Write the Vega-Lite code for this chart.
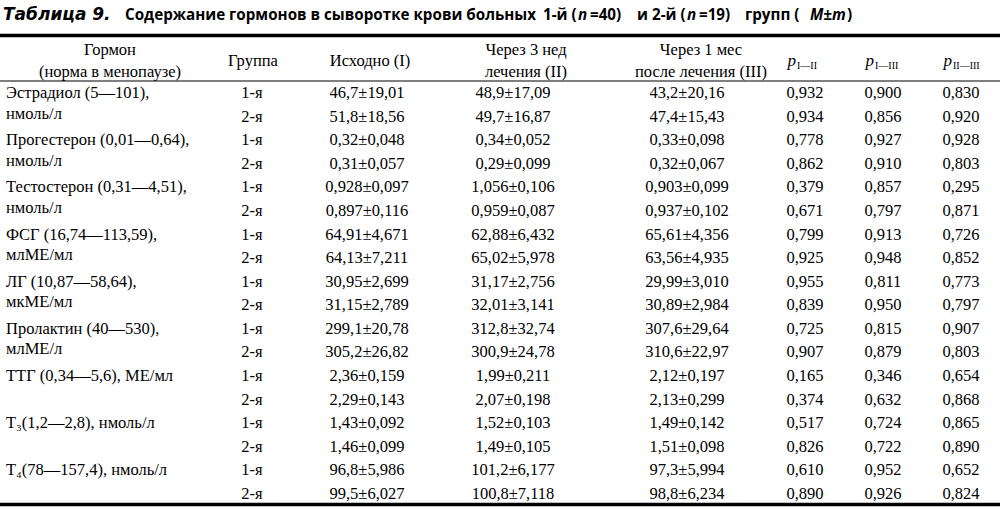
{
 "$schema": "https://vega.github.io/schema/vega-lite/v6.json",
 "width": 1000, "height": 515, "padding": 0, "autosize": "none",
 "background": "white",
 "config": {"view": {"stroke": null}, "text": {"font": "Liberation Serif", "fontSize": 16.5, "color": "#000"}},
 "datasets": {
  "body": [
   {"row": 6, "g": "1-я", "I": "46,7±19,01", "II": "48,9±17,09", "III": "43,2±20,16", "p1": "0,932", "p2": "0,900", "p3": "0,830"},
   {"row": 7, "g": "2-я", "I": "51,8±18,56", "II": "49,7±16,87", "III": "47,4±15,43", "p1": "0,934", "p2": "0,856", "p3": "0,920"},
   {"row": 8, "g": "1-я", "I": "0,32±0,048", "II": "0,34±0,052", "III": "0,33±0,098", "p1": "0,778", "p2": "0,927", "p3": "0,928"},
   {"row": 9, "g": "2-я", "I": "0,31±0,057", "II": "0,29±0,099", "III": "0,32±0,067", "p1": "0,862", "p2": "0,910", "p3": "0,803"},
   {"row": 10, "g": "1-я", "I": "0,928±0,097", "II": "1,056±0,106", "III": "0,903±0,099", "p1": "0,379", "p2": "0,857", "p3": "0,295"},
   {"row": 11, "g": "2-я", "I": "0,897±0,116", "II": "0,959±0,087", "III": "0,937±0,102", "p1": "0,671", "p2": "0,797", "p3": "0,871"},
   {"row": 12, "g": "1-я", "I": "64,91±4,671", "II": "62,88±6,432", "III": "65,61±4,356", "p1": "0,799", "p2": "0,913", "p3": "0,726"},
   {"row": 13, "g": "2-я", "I": "64,13±7,211", "II": "65,02±5,978", "III": "63,56±4,935", "p1": "0,925", "p2": "0,948", "p3": "0,852"},
   {"row": 14, "g": "1-я", "I": "30,95±2,699", "II": "31,17±2,756", "III": "29,99±3,010", "p1": "0,955", "p2": "0,811", "p3": "0,773"},
   {"row": 15, "g": "2-я", "I": "31,15±2,789", "II": "32,01±3,141", "III": "30,89±2,984", "p1": "0,839", "p2": "0,950", "p3": "0,797"},
   {"row": 16, "g": "1-я", "I": "299,1±20,78", "II": "312,8±32,74", "III": "307,6±29,64", "p1": "0,725", "p2": "0,815", "p3": "0,907"},
   {"row": 17, "g": "2-я", "I": "305,2±26,82", "II": "300,9±24,78", "III": "310,6±22,97", "p1": "0,907", "p2": "0,879", "p3": "0,803"},
   {"row": 18, "g": "1-я", "I": "2,36±0,159", "II": "1,99±0,211", "III": "2,12±0,197", "p1": "0,165", "p2": "0,346", "p3": "0,654"},
   {"row": 19, "g": "2-я", "I": "2,29±0,143", "II": "2,07±0,198", "III": "2,13±0,299", "p1": "0,374", "p2": "0,632", "p3": "0,868"},
   {"row": 20, "g": "1-я", "I": "1,43±0,092", "II": "1,52±0,103", "III": "1,49±0,142", "p1": "0,517", "p2": "0,724", "p3": "0,865"},
   {"row": 21, "g": "2-я", "I": "1,46±0,099", "II": "1,49±0,105", "III": "1,51±0,098", "p1": "0,826", "p2": "0,722", "p3": "0,890"},
   {"row": 22, "g": "1-я", "I": "96,8±5,986", "II": "101,2±6,177", "III": "97,3±5,994", "p1": "0,610", "p2": "0,952", "p3": "0,652"},
   {"row": 23, "g": "2-я", "I": "99,5±6,027", "II": "100,8±7,118", "III": "98,8±6,234", "p1": "0,890", "p2": "0,926", "p3": "0,824"}
  ],
  "names": [
   {"row": 6, "c": 1, "t": "Эстрадиол (5—101),"},
   {"row": 7, "c": 1, "t": "нмоль/л"},
   {"row": 8, "c": 1, "t": "Прогестерон (0,01—0,64),"},
   {"row": 9, "c": 1, "t": "нмоль/л"},
   {"row": 10, "c": 1, "t": "Тестостерон (0,31—4,51),"},
   {"row": 11, "c": 1, "t": "нмоль/л"},
   {"row": 12, "c": 1, "t": "ФСГ (16,74—113,59),"},
   {"row": 13, "c": 1, "t": "млМЕ/мл"},
   {"row": 14, "c": 1, "t": "ЛГ (10,87—58,64),"},
   {"row": 15, "c": 1, "t": "мкМЕ/мл"},
   {"row": 16, "c": 1, "t": "Пролактин (40—530),"},
   {"row": 17, "c": 1, "t": "млМЕ/л"},
   {"row": 18, "c": 1, "t": "ТТГ (0,34—5,6), МЕ/мл"},
   {"row": 20, "c": 1, "t": "Т₃(1,2—2,8), нмоль/л"},
   {"row": 22, "c": 1, "t": "Т₄(78—157,4), нмоль/л"}
  ],
  "header": [
   {"row": 2, "c": 1, "t": "Гормон"},
   {"row": 4, "c": 1, "t": "(норма в менопаузе)"},
   {"row": 3, "c": 2, "t": "Группа"},
   {"row": 3, "c": 3, "t": "Исходно (I)"},
   {"row": 2, "c": 4, "t": "Через 3 нед"},
   {"row": 4, "c": 4, "t": "лечения (II)"},
   {"row": 2, "c": 5, "t": "Через 1 мес"},
   {"row": 4, "c": 5, "t": "после лечения (III)"}
  ],
  "pheader": [
   {"row": 3, "c": 6, "p": "p", "sub": "I—II"},
   {"row": 3, "c": 7, "p": "p", "sub": "I—III"},
   {"row": 3, "c": 8, "p": "p", "sub": "II—III"}
  ],
  "titleLead": [
   {"row": 0, "s": 1, "t": "Таблица 9."}
  ],
  "titleItalic": [
   {"row": 0, "s": 4, "t": "n"},
   {"row": 0, "s": 8, "t": "n"},
   {"row": 0, "s": 11, "t": "M±m"}
  ],
  "titleRoman": [
   {"row": 0, "s": 2, "t": "Содержание гормонов в сыворотке крови больных"},
   {"row": 0, "s": 3, "t": "1-й ("},
   {"row": 0, "s": 5, "t": "=40)"},
   {"row": 0, "s": 6, "t": "и"},
   {"row": 0, "s": 7, "t": "2-й ("},
   {"row": 0, "s": 9, "t": "=19)"},
   {"row": 0, "s": 10, "t": "групп ("},
   {"row": 0, "s": 12, "t": ")"}
  ],
  "thickRules": [{"row": 1}, {"row": 24}],
  "thinRules": [{"row": 5}]
 },
 "resolve": {"scale": {"x": "independent"}},
 "layer": [
  {
   "data": {"name": "thickRules"},
   "mark": {"type": "rule", "color": "#000", "strokeWidth": 3.5},
   "encoding": {
    "y": {"field": "row", "type": "quantitative", "axis": null, "scale": {"domain": [0,1,2,3,4,5,6,23,24], "range": [15,35.5,50,61,72,81,93,494,504.5], "nice": false, "zero": false}}
   }
  },
  {
   "data": {"name": "thinRules"},
   "mark": {"type": "rule", "color": "#000", "strokeWidth": 1.2},
   "encoding": {
    "y": {"field": "row", "type": "quantitative", "axis": null, "scale": {"domain": [0,1,2,3,4,5,6,23,24], "range": [15,35.5,50,61,72,81,93,494,504.5], "nice": false, "zero": false}}
   }
  },
  {
   "data": {"name": "titleLead"},
   "mark": {"type": "text", "align": "left", "baseline": "middle", "font": "DejaVu Sans", "fontSize": 17, "fontWeight": "bold", "fontStyle": "italic"},
   "encoding": {
    "x": {"field": "s", "type": "quantitative", "axis": null, "scale": {"domain": [1,2,3,4,5,6,7,8,9,10,11,12], "range": [3,125,543,578,590,637,652,687,699,745,810,847], "nice": false, "zero": false}},
    "y": {"field": "row", "type": "quantitative", "axis": null, "scale": {"domain": [0,1,2,3,4,5,6,23,24], "range": [15,35.5,50,61,72,81,93,494,504.5], "nice": false, "zero": false}},
    "text": {"field": "t"}
   }
  },
  {
   "data": {"name": "titleItalic"},
   "mark": {"type": "text", "align": "left", "baseline": "middle", "font": "Open Sans", "fontSize": 15.2, "fontWeight": "bold", "fontStyle": "italic"},
   "encoding": {
    "x": {"field": "s", "type": "quantitative", "axis": null, "scale": {"domain": [1,2,3,4,5,6,7,8,9,10,11,12], "range": [3,125,543,578,590,637,652,687,699,745,810,847], "nice": false, "zero": false}},
    "y": {"field": "row", "type": "quantitative", "axis": null, "scale": {"domain": [0,1,2,3,4,5,6,23,24], "range": [15,35.5,50,61,72,81,93,494,504.5], "nice": false, "zero": false}},
    "text": {"field": "t"}
   }
  },
  {
   "data": {"name": "titleRoman"},
   "mark": {"type": "text", "align": "left", "baseline": "middle", "font": "Open Sans", "fontSize": 15.2, "fontWeight": "bold"},
   "encoding": {
    "x": {"field": "s", "type": "quantitative", "axis": null, "scale": {"domain": [1,2,3,4,5,6,7,8,9,10,11,12], "range": [3,125,543,578,590,637,652,687,699,745,810,847], "nice": false, "zero": false}},
    "y": {"field": "row", "type": "quantitative", "axis": null, "scale": {"domain": [0,1,2,3,4,5,6,23,24], "range": [15,35.5,50,61,72,81,93,494,504.5], "nice": false, "zero": false}},
    "text": {"field": "t"}
   }
  },
  {
   "data": {"name": "header"},
   "mark": {"type": "text", "align": "center", "baseline": "middle", "font": "Liberation Serif"},
   "encoding": {
    "x": {"field": "c", "type": "quantitative", "axis": null, "scale": {"domain": [1,2,3,4,5,6,7,8], "range": [110,253,370,526,701,805,883,961], "nice": false, "zero": false}},
    "y": {"field": "row", "type": "quantitative", "axis": null, "scale": {"domain": [0,1,2,3,4,5,6,23,24], "range": [15,35.5,50,61,72,81,93,494,504.5], "nice": false, "zero": false}},
    "text": {"field": "t"}
   }
  },
  {
   "data": {"name": "pheader"},
   "mark": {"type": "text", "align": "right", "baseline": "middle", "font": "Liberation Serif", "fontStyle": "italic", "fontSize": 17, "dx": -9},
   "encoding": {
    "x": {"field": "c", "type": "quantitative", "axis": null, "scale": {"domain": [1,2,3,4,5,6,7,8], "range": [110,253,370,526,701,805,883,961], "nice": false, "zero": false}},
    "y": {"field": "row", "type": "quantitative", "axis": null, "scale": {"domain": [0,1,2,3,4,5,6,23,24], "range": [15,35.5,50,61,72,81,93,494,504.5], "nice": false, "zero": false}},
    "text": {"field": "p"}
   }
  },
  {
   "data": {"name": "pheader"},
   "mark": {"type": "text", "align": "left", "baseline": "middle", "font": "Liberation Serif", "fontSize": 10, "dx": -8, "dy": 5},
   "encoding": {
    "x": {"field": "c", "type": "quantitative", "axis": null, "scale": {"domain": [1,2,3,4,5,6,7,8], "range": [110,253,370,526,701,805,883,961], "nice": false, "zero": false}},
    "y": {"field": "row", "type": "quantitative", "axis": null, "scale": {"domain": [0,1,2,3,4,5,6,23,24], "range": [15,35.5,50,61,72,81,93,494,504.5], "nice": false, "zero": false}},
    "text": {"field": "sub"}
   }
  },
  {
   "data": {"name": "names"},
   "transform": [{"filter": "datum.row % 2 == 0"}],
   "mark": {"type": "text", "align": "left", "baseline": "middle", "font": "Liberation Serif"},
   "encoding": {
    "x": {"field": "c", "type": "quantitative", "axis": null, "scale": {"domain": [1,2,3,4,5,6,7,8], "range": [6,252,367,513,687,805,883,961], "nice": false, "zero": false}},
    "y": {"field": "row", "type": "quantitative", "axis": null, "scale": {"domain": [0,1,2,3,4,5,6,23,24], "range": [15,35.5,50,61,72,81,93,494,504.5], "nice": false, "zero": false}},
    "text": {"field": "t"}
   }
  },
  {
   "data": {"name": "names"},
   "transform": [{"filter": "datum.row % 2 == 1"}],
   "mark": {"type": "text", "align": "left", "baseline": "middle", "font": "Liberation Serif", "dy": -3},
   "encoding": {
    "x": {"field": "c", "type": "quantitative", "axis": null, "scale": {"domain": [1,2,3,4,5,6,7,8], "range": [6,252,367,513,687,805,883,961], "nice": false, "zero": false}},
    "y": {"field": "row", "type": "quantitative", "axis": null, "scale": {"domain": [0,1,2,3,4,5,6,23,24], "range": [15,35.5,50,61,72,81,93,494,504.5], "nice": false, "zero": false}},
    "text": {"field": "t"}
   }
  },
  {
   "data": {"name": "body"},
   "transform": [
    {"fold": ["g", "I", "II", "III", "p1", "p2", "p3"], "as": ["key", "t"]},
    {"lookup": "key", "from": {"data": {"values": [{"key": "g", "c": 2}, {"key": "I", "c": 3}, {"key": "II", "c": 4}, {"key": "III", "c": 5}, {"key": "p1", "c": 6}, {"key": "p2", "c": 7}, {"key": "p3", "c": 8}]}, "key": "key", "fields": ["c"]}}
   ],
   "mark": {"type": "text", "align": "center", "baseline": "middle", "font": "Liberation Serif"},
   "encoding": {
    "x": {"field": "c", "type": "quantitative", "axis": null, "scale": {"domain": [1,2,3,4,5,6,7,8], "range": [6,252,367,513,687,805,883,961], "nice": false, "zero": false}},
    "y": {"field": "row", "type": "quantitative", "axis": null, "scale": {"domain": [0,1,2,3,4,5,6,23,24], "range": [15,35.5,50,61,72,81,93,494,504.5], "nice": false, "zero": false}},
    "text": {"field": "t"}
   }
  }
 ]
}
